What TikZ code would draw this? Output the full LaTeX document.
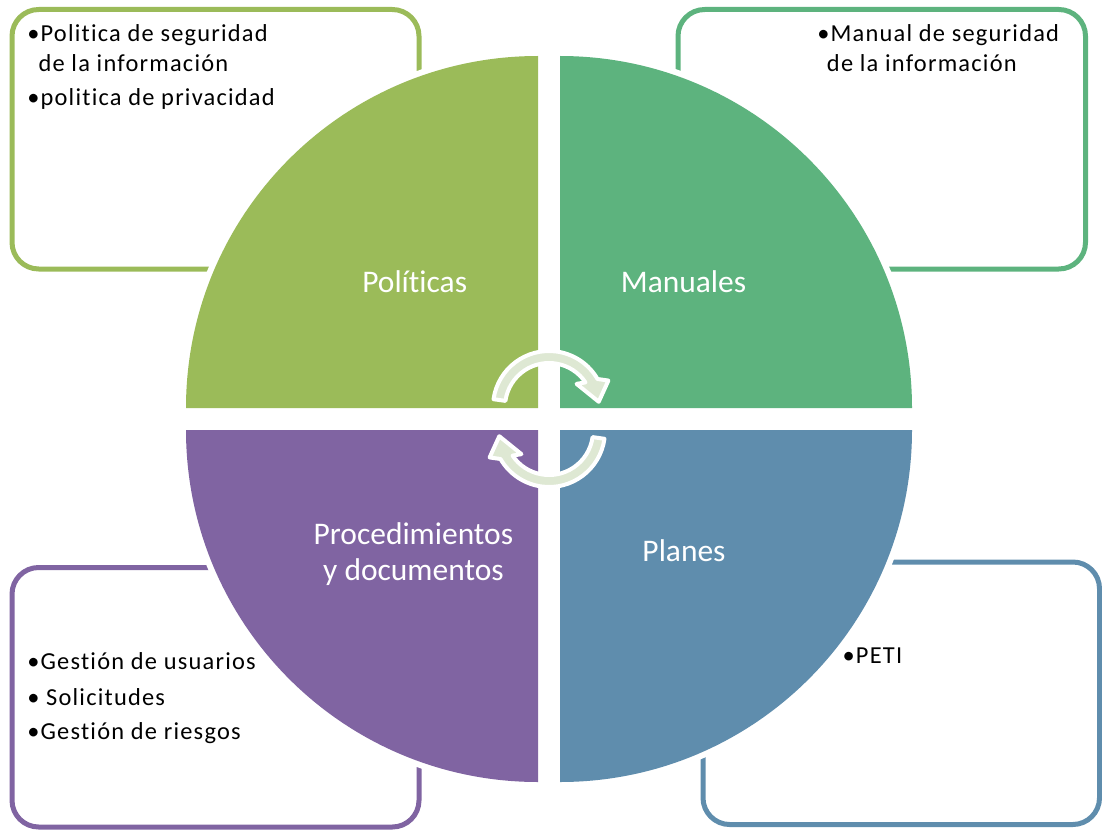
\documentclass[tikz,border=0pt]{standalone}
\usepackage{fontspec}
\setmainfont[Ligatures=NoCommon]{Carlito}
\newfontfamily\boxfont[LetterSpace=5,Ligatures=NoCommon]{Carlito}
\definecolor{qgreen}{RGB}{155,187,89}
\definecolor{qteal}{RGB}{93,179,126}
\definecolor{qpurple}{RGB}{128,100,162}
\definecolor{qblue}{RGB}{95,141,173}
\definecolor{arrowfill}{RGB}{222,232,211}
\tikzset{
  boxframe/.style={line width=3.75pt, rounded corners=20pt},
  halo/.style={fill=white},
  qlabel/.style={text=white, font=\fontsize{23.6}{28}\selectfont, inner sep=0pt, anchor=base},
  itemtext/.style={font=\boxfont\fontsize{18.3}{22}\selectfont, inner sep=0pt, anchor=base west},
  cyc/.style={fill=arrowfill, draw=white, line width=3pt, line join=round},
  cycarrow/.pic={
    \path[cyc] (-172:56) arc[start angle=-172, end angle=-30, radius=56]
      -- (-24:65) -- (-6:50) -- (-40:36) -- (-34:44)
      arc[start angle=-34, end angle=-172, radius=44] -- cycle;
  }
}
\begin{document}
\begin{tikzpicture}[x=0.75pt,y=-0.75pt]
\useasboundingbox (0,0) rectangle (1102,831);
% boxes
\draw[boxframe, draw=qgreen]  (12,9.5) rectangle (419,269);
\draw[boxframe, draw=qteal]   (678,9.5) rectangle (1085.5,269);
\draw[boxframe, draw=qpurple] (12,567.5) rectangle (419,827);
\draw[boxframe, draw=qblue]   (703,562) rectangle (1099.5,824.5);
% white halos
\fill[halo] (538,408) -- (180,408) arc[start angle=180, end angle=270, radius=358] -- cycle;
\fill[halo] (560,408) -- (918,408) arc[start angle=0, end angle=-90, radius=358] -- cycle;
\fill[halo] (538,430) -- (180,430) arc[start angle=180, end angle=90, radius=358] -- cycle;
\fill[halo] (560,430) -- (918,430) arc[start angle=0, end angle=90, radius=358] -- cycle;
% quadrants
\fill[qgreen]  (538,408) -- (186,408) arc[start angle=180, end angle=270, radius=352] -- cycle;
\fill[qteal]   (560,408) -- (912,408) arc[start angle=0, end angle=-90, radius=352] -- cycle;
\fill[qpurple] (538,430) -- (186,430) arc[start angle=180, end angle=90, radius=352] -- cycle;
\fill[qblue]   (560,430) -- (912,430) arc[start angle=0, end angle=90, radius=352] -- cycle;
% quadrant labels
\node[qlabel] (pol) at (414.7,292.7) {Políticas};
\node[qlabel] (man) at (683.5,292.7) {Manuales};
\node[qlabel] (proA) at (413.4,544) {Procedimientos};
\node[qlabel] (proB) at (413.4,580) {y documentos};
\node[qlabel] (pla) at (684,561.7) {Planes};
% cycle arrows
\pic at (549,407) {cycarrow};
\pic[rotate=180] at (549,431) {cycarrow};
% box texts
\node[itemtext] (tl1) at (27,41.7) {•Politica de seguridad};
\node[itemtext] (tl2) at (38.3,71.7) {de la información};
\node[itemtext] (tl3) at (27,106) {•politica de privacidad};
\node[itemtext] (tr1) at (817,41.7) {•Manual de seguridad};
\node[itemtext] (tr2) at (826.7,72) {de la información};
\node[itemtext] (bl1) at (27,669.3) {•Gestión de usuarios};
\node[itemtext] (bl2) at (27,705) {•\ Solicitudes};
\node[itemtext] (bl3) at (27,739.3) {•Gestión de riesgos};
\node[itemtext] (br1) at (842.3,663.3) {•PETI};
\end{tikzpicture}
\end{document}
